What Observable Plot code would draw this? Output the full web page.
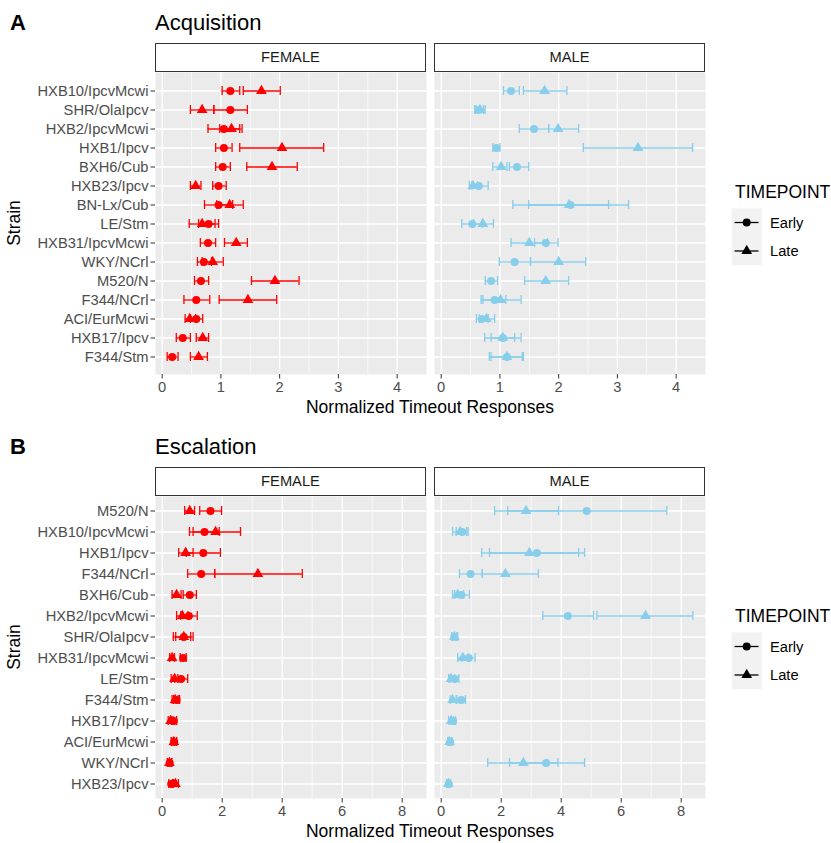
<!DOCTYPE html>
<html><head><meta charset="utf-8">
<script src="https://cdn.jsdelivr.net/npm/d3@7"></script>
<script src="https://cdn.jsdelivr.net/npm/@observablehq/plot@0.6"></script>
<style>
body{margin:0;background:#fff;}
#root{position:relative;width:831px;height:843px;font-family:"Liberation Sans",Arial,sans-serif;overflow:hidden;background:#fff;}
.abs{position:absolute;white-space:nowrap;line-height:1;}
.letter{font-weight:bold;font-size:22px;color:#000;}
.title{font-size:22px;color:#000;}
.strip{position:absolute;box-sizing:border-box;border:1.3px solid #333;background:#fff;font-size:14.7px;color:#1A1A1A;display:flex;align-items:center;justify-content:center;line-height:1;}
.axtitle{font-size:17.5px;color:#000;}
</style></head><body><div id="root"></div>
<script>
// ---------- data ----------
const sexes = ["FEMALE", "MALE"];
const sexColors = ["#FF0000", "#87CEEB"];
const timepoints = ["Early", "Late"];

// Panel A: Acquisition
const strainsA = ["HXB10/IpcvMcwi","SHR/OlaIpcv","HXB2/IpcvMcwi","HXB1/Ipcv","BXH6/Cub","HXB23/Ipcv","BN-Lx/Cub","LE/Stm","HXB31/IpcvMcwi","WKY/NCrl","M520/N","F344/NCrl","ACI/EurMcwi","HXB17/Ipcv","F344/Stm"];
const ticksA = [0, 1, 2, 3, 4];
const minorA = [0.5, 1.5, 2.5, 3.5];
// [mean, lower, upper]
const acqFemaleEarly = [[1.16,1.02,1.32],[1.16,0.88,1.45],[1.05,0.78,1.32],[1.05,0.91,1.19],[1.03,0.91,1.16],[0.96,0.86,1.09],[0.96,0.72,1.20],[0.79,0.62,0.96],[0.78,0.65,0.91],[0.71,0.60,0.84],[0.66,0.55,0.79],[0.58,0.37,0.81],[0.58,0.48,0.69],[0.35,0.24,0.48],[0.17,0.085,0.27]];
const acqFemaleLate  = [[1.69,1.38,2.01],[0.68,0.48,0.88],[1.18,0.98,1.36],[2.04,1.32,2.75],[1.87,1.44,2.30],[0.57,0.48,0.66],[1.15,0.93,1.38],[0.68,0.46,0.90],[1.26,1.06,1.45],[0.86,0.68,1.04],[1.92,1.52,2.33],[1.46,0.97,1.95],[0.47,0.39,0.57],[0.69,0.58,0.79],[0.62,0.48,0.77]];
const acqMaleEarly   = [[1.19,1.06,1.33],[0.64,0.57,0.72],[1.58,1.33,1.83],[0.94,0.88,1.00],[1.29,1.16,1.49],[0.64,0.52,0.80],[2.20,1.49,2.85],[0.53,0.35,0.70],[1.78,1.59,1.99],[1.25,0.99,1.52],[0.85,0.75,0.96],[0.91,0.71,1.10],[0.69,0.60,0.80],[1.05,0.85,1.25],[1.12,0.85,1.38]];
const acqMaleLate    = [[1.76,1.40,2.14],[0.66,0.59,0.75],[1.99,1.83,2.34],[3.35,2.42,4.28],[1.02,0.88,1.12],[0.54,0.48,0.62],[2.18,1.22,3.19],[0.71,0.55,0.89],[1.50,1.19,1.81],[2.00,1.52,2.46],[1.78,1.42,2.17],[1.01,0.68,1.36],[0.77,0.65,0.91],[1.05,0.74,1.36],[1.12,0.82,1.40]];

// Panel B: Escalation
const strainsB = ["M520/N","HXB10/IpcvMcwi","HXB1/Ipcv","F344/NCrl","BXH6/Cub","HXB2/IpcvMcwi","SHR/OlaIpcv","HXB31/IpcvMcwi","LE/Stm","F344/Stm","HXB17/Ipcv","ACI/EurMcwi","WKY/NCrl","HXB23/Ipcv"];
const ticksB = [0, 2, 4, 6, 8];
const minorB = [1, 3, 5, 7];
const escFemaleEarly = [[1.61,1.25,1.98],[1.41,0.91,1.90],[1.37,0.80,1.94],[1.30,0.85,1.75],[0.92,0.70,1.14],[0.89,0.62,1.17],[0.72,0.45,1.03],[0.70,0.60,0.80],[0.63,0.42,0.85],[0.48,0.38,0.58],[0.39,0.30,0.48],[0.40,0.32,0.48],[0.25,0.18,0.32],[0.30,0.22,0.38]];
const escFemaleLate  = [[0.92,0.75,1.08],[1.78,1.03,2.61],[0.78,0.55,1.03],[3.19,1.75,4.67],[0.48,0.33,0.63],[0.67,0.48,0.86],[0.72,0.37,0.95],[0.33,0.25,0.41],[0.41,0.30,0.52],[0.43,0.33,0.53],[0.28,0.20,0.36],[0.39,0.30,0.48],[0.24,0.17,0.31],[0.44,0.34,0.54]];
const escMaleEarly   = [[4.85,2.22,7.52],[0.70,0.50,0.90],[3.19,1.61,4.78],[0.98,0.61,1.37],[0.67,0.45,0.94],[4.22,3.39,5.08],[0.44,0.35,0.55],[0.92,0.70,1.13],[0.45,0.30,0.59],[0.67,0.52,0.81],[0.40,0.32,0.48],[0.30,0.24,0.36],[3.50,2.28,4.78],[0.25,0.19,0.31]];
const escMaleLate    = [[2.83,1.78,3.91],[0.63,0.38,0.85],[2.94,1.35,4.58],[2.14,1.37,3.24],[0.55,0.38,0.75],[6.81,5.19,8.39],[0.44,0.36,0.52],[0.72,0.55,0.90],[0.33,0.25,0.45],[0.38,0.30,0.50],[0.33,0.25,0.41],[0.28,0.22,0.34],[2.74,1.55,3.89],[0.24,0.18,0.30]];

// ---------- helpers ----------
const FONT = '"Liberation Sans", Arial, sans-serif';
function buildRows(strains, groups) {
  const rows = [];
  for (const g of groups) {
    g.vals.forEach((v, i) => rows.push({strain: strains[i], sex: g.sex, time: g.time, mean: v[0], lo: v[1], hi: v[2]}));
  }
  return rows;
}

const root = document.getElementById("root");
function addDiv(cls, text, style) {
  const d = document.createElement("div");
  d.className = cls;
  d.textContent = text;
  Object.assign(d.style, style);
  root.appendChild(d);
  return d;
}

// layout constants
const ML = 155, FW = 271, GAP = 8, W = 831;
const MR = W - (ML + 2 * FW + GAP);
const PT = 72, PH = 302, SVGH = 395;

function panel({top, letter, title, strains, rows, xDomain, ticks, minor}) {
  const n = strains.length;
  const step = PH / (n + 0.2);
  const pi = 1 - 9 / step;
  const po = 0.1 + pi / 2;
  const plot = Plot.plot({
    width: W, height: SVGH,
    marginTop: PT, marginBottom: SVGH - PT - PH, marginLeft: ML, marginRight: MR,
    style: {fontFamily: FONT, fontSize: "14.7px", background: "transparent", overflow: "visible"},
    fx: {domain: sexes, paddingInner: GAP / (FW + GAP), paddingOuter: 0, axis: null, label: null},
    x: {domain: xDomain, label: null},
    y: {type: "band", domain: strains, paddingInner: pi, paddingOuter: po, align: 0.5, label: null},
    color: {domain: sexes, range: sexColors},
    symbol: {domain: timepoints, range: ["circle", "triangle"]},
    marks: [
      Plot.frame({fill: "#EBEBEB"}),
      Plot.gridX({ticks: minor, stroke: "#fff", strokeOpacity: 1, strokeWidth: 0.65}),
      Plot.gridX({ticks: ticks, stroke: "#fff", strokeOpacity: 1, strokeWidth: 1.3}),
      Plot.ruleY(strains, {y: d => d, stroke: "#fff", strokeWidth: 1.3}),
      Plot.axisY({tickSize: 4.5, tickPadding: 2.5, fontSize: 14.7, color: "#4D4D4D", stroke: "#333", label: null}),
      Plot.axisX({ticks: ticks, tickFormat: d => String(d), tickSize: 4.5, tickPadding: 2.5, fontSize: 14.7, color: "#4D4D4D", stroke: "#333", label: null}),
      Plot.ruleY(rows, {y: "strain", x1: "lo", x2: "hi", fx: "sex", stroke: "sex", strokeWidth: 1.3}),
      Plot.tickX(rows, {x: "lo", y: "strain", fx: "sex", stroke: "sex", strokeWidth: 1.3}),
      Plot.tickX(rows, {x: "hi", y: "strain", fx: "sex", stroke: "sex", strokeWidth: 1.3}),
      Plot.dot(rows, {x: "mean", y: "strain", fx: "sex", fill: "sex", symbol: "time", r: 4})
    ]
  });
  plot.style.position = "absolute";
  plot.style.left = "0px";
  plot.style.top = top + "px";
  root.appendChild(plot);

  // titles
  addDiv("abs letter", letter, {left: "10px", top: (top + 12) + "px"});
  addDiv("abs title", title, {left: ML + "px", top: (top + 12) + "px"});
  // strips
  sexes.forEach((s, i) => {
    addDiv("strip", s, {left: (ML + i * (FW + GAP)) + "px", top: (top + 43) + "px", width: FW + "px", height: "28.5px"});
  });
  // axis titles
  addDiv("abs axtitle", "Strain", {left: "15px", top: (top + PT + PH / 2) + "px", transform: "translate(-50%,-50%) rotate(-90deg)"});
  addDiv("abs axtitle", "Normalized Timeout Responses", {left: (ML + FW + GAP / 2) + "px", top: (top + 408) + "px", transform: "translate(-50%,-50%)"});

  // legend
  const lg = d3.create("svg").attr("width", 111).attr("height", 110)
    .style("position", "absolute").style("left", "720px").style("top", (top + 170) + "px")
    .style("font-family", FONT);
  lg.append("text").attr("x", 15).attr("y", 21.7).attr("dy", "0.35em").attr("font-size", 17.5).attr("fill", "#000").text("TIMEPOINT");
  lg.append("rect").attr("x", 11.7).attr("y", 38.3).attr("width", 30).attr("height", 57).attr("fill", "#F2F2F2");
  const keyY = [52.5, 81];
  timepoints.forEach((t, i) => {
    const y = keyY[i];
    lg.append("line").attr("x1", 14.5).attr("x2", 38.5).attr("y1", y).attr("y2", y).attr("stroke", "#000").attr("stroke-width", 1.3);
    lg.append("path").attr("d", d3.symbol(i === 0 ? d3.symbolCircle : d3.symbolTriangle, Math.PI * 16)()).attr("transform", `translate(26.7,${y})`).attr("fill", "#000");
    lg.append("text").attr("x", 50).attr("y", y).attr("dy", "0.35em").attr("font-size", 14.7).attr("fill", "#000").text(t);
  });
  root.appendChild(lg.node());
}

panel({
  top: 0, letter: "A", title: "Acquisition", strains: strainsA,
  rows: buildRows(strainsA, [
    {sex: "FEMALE", time: "Early", vals: acqFemaleEarly},
    {sex: "FEMALE", time: "Late", vals: acqFemaleLate},
    {sex: "MALE", time: "Early", vals: acqMaleEarly},
    {sex: "MALE", time: "Late", vals: acqMaleLate}
  ]),
  xDomain: [-0.114, 4.50], ticks: ticksA, minor: minorA
});
panel({
  top: 424, letter: "B", title: "Escalation", strains: strainsB,
  rows: buildRows(strainsB, [
    {sex: "FEMALE", time: "Early", vals: escFemaleEarly},
    {sex: "FEMALE", time: "Late", vals: escFemaleLate},
    {sex: "MALE", time: "Early", vals: escMaleEarly},
    {sex: "MALE", time: "Late", vals: escMaleLate}
  ]),
  xDomain: [-0.223, 8.81], ticks: ticksB, minor: minorB
});
</script></body></html>
